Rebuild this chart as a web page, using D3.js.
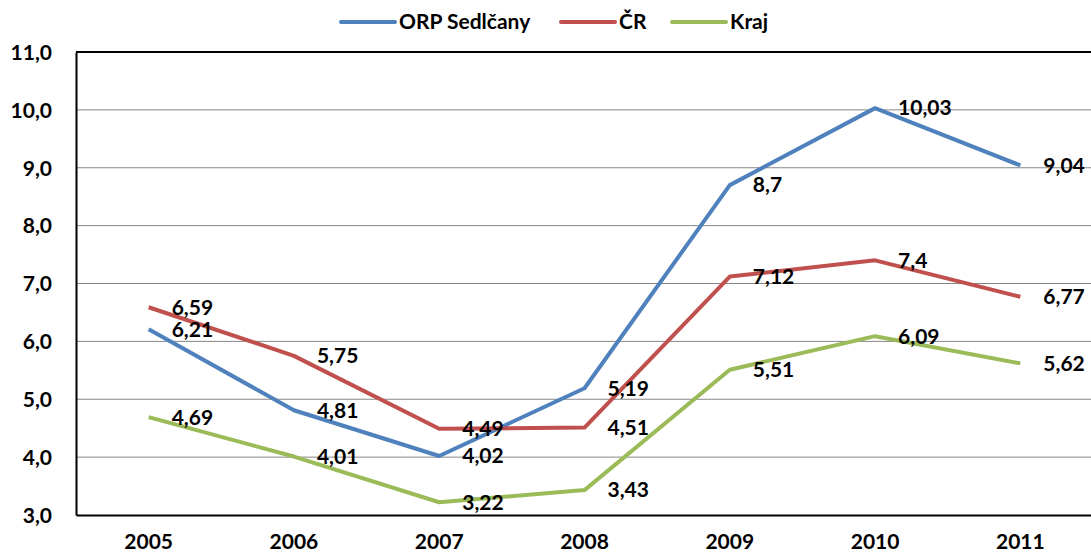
<!DOCTYPE html>
<html>
<head>
<meta charset="utf-8">
<script src="https://cdn.jsdelivr.net/npm/d3@7"></script>
<style>
  body { margin: 0; background: #fff; }
  text { font-family: Lato, "Open Sans", sans-serif; font-weight: bold; }
</style>
</head>
<body>
<div id="chart"></div>
<script>
const years = ["2005", "2006", "2007", "2008", "2009", "2010", "2011"];
const orp = [6.21, 4.81, 4.02, 5.19, 8.7, 10.03, 9.04];
const cr = [6.59, 5.75, 4.49, 4.51, 7.12, 7.4, 6.77];
const kraj = [4.69, 4.01, 3.22, 3.43, 5.51, 6.09, 5.62];
const yTicks = [3, 4, 5, 6, 7, 8, 9, 10, 11];

const series = [
  { name: "ORP Sedlčany", values: orp, color: "#4F81BD" },
  { name: "ČR", values: cr, color: "#C0504D" },
  { name: "Kraj", values: kraj, color: "#9BBB59" }
];

let W = 1091, H = 556;
let margin = { top: 52, right: -2, bottom: 41, left: 76 },
  width = W - margin.left - margin.right,
  height = H - margin.top - margin.bottom;

let svg = d3.select("#chart")
  .append("svg")
  .attr("width", W)
  .attr("height", H);

let g = svg.append("g")
  .attr("transform", "translate(" + margin.left + "," + margin.top + ")");

let x = d3.scaleBand()
  .domain(years)
  .range([0, width]);

let y = d3.scaleLinear()
  .domain([3, 11])
  .range([height, 0]);

const fmt = v => String(v).replace(".", ",");
const fs = 21;

// gridlines
g.append("g")
  .selectAll("line")
  .data(yTicks.slice(1, -1))
  .enter()
  .append("line")
  .attr("x1", 0)
  .attr("x2", width)
  .attr("y1", d => y(d))
  .attr("y2", d => y(d))
  .attr("stroke", "#868686")
  .attr("stroke-width", 1);

// top border
g.append("line")
  .attr("x1", 0).attr("x2", width)
  .attr("y1", 0).attr("y2", 0)
  .attr("stroke", "#000").attr("stroke-width", 2);

// y axis
let yAxis = g.append("g")
  .call(d3.axisLeft(y).tickValues(yTicks).tickSize(0).tickPadding(24).tickFormat(d => d3.format(".1f")(d).replace(".", ",")));
yAxis.select(".domain").attr("stroke", "#000").attr("stroke-width", 2);
yAxis.selectAll("text").attr("font-size", fs).attr("fill", "#000").attr("dy", "0.35em");

// x axis
let xAxis = g.append("g")
  .attr("transform", "translate(0," + height + ")")
  .call(d3.axisBottom(x).tickSize(0).tickPadding(19));
xAxis.select(".domain").attr("stroke", "#000").attr("stroke-width", 2);
xAxis.selectAll("text").attr("font-size", fs).attr("fill", "#000");

let line = d3.line()
  .x((d, i) => x(years[i]) + x.bandwidth() / 2)
  .y(d => y(d));

series.forEach(s => {
  g.append("path")
    .datum(s.values)
    .attr("fill", "none")
    .attr("stroke", s.color)
    .attr("stroke-width", 4)
    .attr("stroke-linejoin", "round")
    .attr("d", line);
});

series.forEach(s => {
  g.append("g")
    .selectAll("text")
    .data(s.values)
    .enter()
    .append("text")
    .attr("x", (d, i) => x(years[i]) + x.bandwidth() / 2 + 23)
    .attr("y", d => y(d))
    .attr("dy", "0.35em")
    .attr("font-size", fs)
    .attr("fill", "#000")
    .text(d => fmt(d));
});

// legend
const legendX = [341, 561, 672];
let legend = svg.append("g");
series.forEach((s, i) => {
  legend.append("line")
    .attr("x1", legendX[i]).attr("x2", legendX[i] + 54)
    .attr("y1", 22).attr("y2", 22)
    .attr("stroke", s.color).attr("stroke-width", 4)
    .attr("stroke-linecap", "round");
  legend.append("text")
    .attr("x", legendX[i] + 58)
    .attr("y", 22)
    .attr("dy", "0.35em")
    .attr("font-size", fs)
    .attr("fill", "#000")
    .text(s.name);
});
</script>
</body>
</html>
